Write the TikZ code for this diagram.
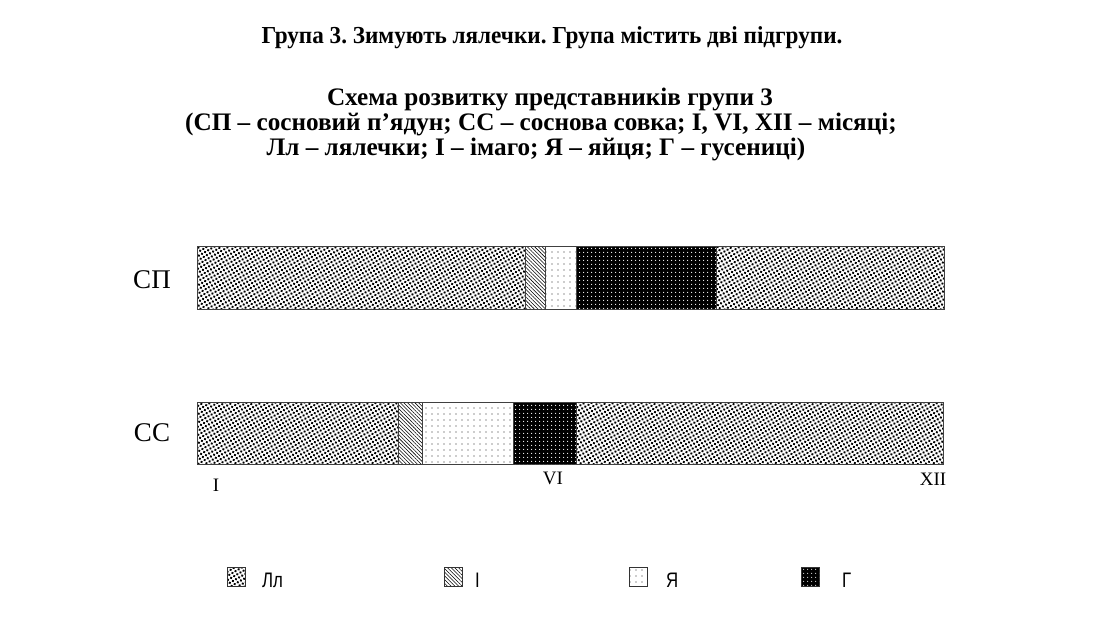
\documentclass[tikz,border=0pt]{standalone}
\usepackage{fontspec}
\setmainfont{Liberation Serif}
\newfontfamily\titlefont[FakeStretch=0.95]{Liberation Serif}
\newfontfamily\legfont[FakeStretch=0.8]{Liberation Sans}
\usetikzlibrary{patterns.meta,positioning}
\frenchspacing

\tikzset{
  seg/.style={draw=black!75, line width=0.7pt},
  ll/.style={pattern={Dots[distance=3.6pt,radius=1.35pt,angle=30]}, pattern color=black},
  im/.style={pattern={Lines[angle=-45,distance=2.6pt,line width=0.55pt]}, pattern color=black},
  ya/.style={pattern={Dots[distance=6pt,radius=0.55pt]}, pattern color=black!85},
  gu/.style={fill=black, postaction={pattern={Dots[distance=4pt,radius=0.65pt]}, pattern color=white}},
  title/.style={font=\bfseries\fontsize{25.2}{27}\selectfont, inner sep=0pt,
    anchor=base, text height=17pt, text depth=5pt},
  barlabel/.style={font=\fontsize{27}{30}\selectfont, inner sep=0pt},
  month/.style={font=\fontsize{19}{21}\selectfont, inner sep=0pt},
  legbox/.style={draw=black!80, line width=0.6pt, minimum width=18pt, minimum height=19pt, inner sep=0pt},
  legtext/.style={font=\legfont\fontsize{21}{23}\selectfont, inner sep=0pt, anchor=west},
}

\begin{document}
\begin{tikzpicture}[x=1pt, y=-1pt]
  \useasboundingbox (0,0) rectangle (1094,624);

  % headings
  \node[title, font=\titlefont\bfseries\fontsize{24.4}{26}\selectfont] (t1) at (552,43) {Група 3. Зимують лялечки. Група містить дві підгрупи.};
  \node[title] (t2) at (550,105) {Схема розвитку представників групи 3};
  \node[title] (t3) at (541,130) {(СП – сосновий п’ядун; СС – соснова совка; I, VI, XII – місяці;};
  \node[title] (t4) at (536,155) {Лл – лялечки; І – імаго; Я – яйця; Г – гусениці)};

  % bars
  \foreach \a/\b/\s in {197/525/ll, 525/545/im, 545/576/ya, 576/716/gu, 716/944/ll}{
    \draw[seg,\s] (\a,246) rectangle (\b,309);
  }
  \foreach \a/\b/\s in {197/398/ll, 398/422/im, 422/513/ya, 513/576/gu, 576/943/ll}{
    \draw[seg,\s] (\a,402) rectangle (\b,464);
  }

  \node[barlabel] (sp) at (152,280) {СП};
  \node[barlabel] (ss) at (152,433) {СС};

  \node[month] (m1) at (216,485) {I};
  \node[month] (m6) at (553,478) {VI};
  \node[month] (m12) at (933,479) {XII};

  % legend
  \foreach \x/\s/\t/\tx in {236/ll/Лл/262, 453/im/І/475, 638/ya/Я/666, 810/gu/Г/842}{
    \node[legbox,\s] (key\s) at (\x,577) {};
    \node[legtext] (lab\s) at (\tx,580) {\t};
  }
\end{tikzpicture}
\end{document}
